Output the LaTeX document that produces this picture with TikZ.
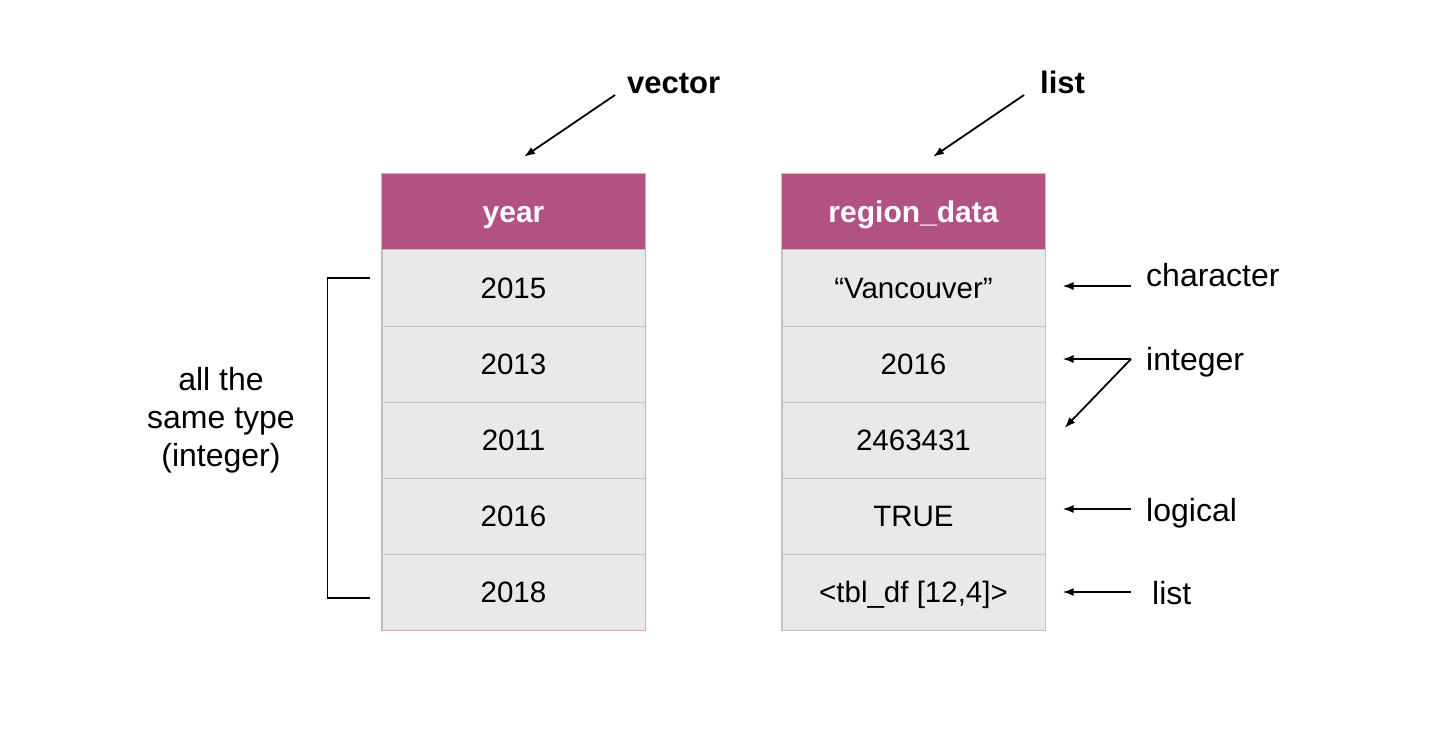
\documentclass[tikz,border=0pt]{standalone}
\usepackage{fontspec}
\setmainfont{Liberation Sans}
\usetikzlibrary{positioning,arrows.meta}

\definecolor{headpink}{HTML}{B25282}
\definecolor{cellgrey}{HTML}{E9E9EB}
\definecolor{linegrey}{HTML}{C2C2C4}
\definecolor{edgepink}{HTML}{DCA6C1}

\begin{document}
\begin{tikzpicture}[
 x=1pt, y=-1pt,
 >={Latex[length=11pt,width=8pt]},
 align=center,
 inner sep=0pt,
 head/.style={draw=headpink,fill=headpink,rectangle,minimum width=263pt,minimum height=76pt,text height=27pt,text depth=6pt,text=white,font=\fontsize{30}{36}\selectfont\bfseries},
 cell/.style={draw=linegrey,fill=cellgrey,line width=1pt,rectangle,minimum width=263pt,minimum height=76pt,text height=27pt,text depth=6pt,font=\fontsize{29.5}{35}\selectfont},
 note/.style={font=\fontsize{32}{38}\selectfont},
 title/.style={font=\fontsize{31}{38}\selectfont\bfseries},
 pointer/.style={->,line width=1.8pt}
]
\useasboundingbox [fill=white] (0,0) rectangle (1446,754);

% vector table
\node (yhead) [head] at (513.5,212) {year};
\foreach \val [count=\i] in {2015,2013,2011,2016,2018}
  \node (y\i) [cell] at (513.5,212+76*\i) {\val};
\draw [edgepink,line width=1pt] (yhead.north west) rectangle (y5.south east);

% list table
\node (rhead) [head] at (913.5,212) {region\_data};
\node (r1) [cell] at (913.5,288) {“Vancouver”};
\node (r2) [cell] at (913.5,364) {2016};
\node (r3) [cell] at (913.5,440) {2463431};
\node (r4) [cell] at (913.5,516) {TRUE};
\node (r5) [cell] at (913.5,592) {<tbl\_df [12,4]>};
\draw [linegrey,line width=1pt] (rhead.north west) rectangle (r5.south east);

% titles
\node (vector) [title,anchor=base west] at (627,94) {vector};
\node (list) [title,anchor=base west] at (1040,94) {list};
\draw[pointer] ([xshift=-12pt,yshift=-1pt]vector.base west) -- ([xshift=10.5pt,yshift=17pt]yhead.north);
\draw[pointer] ([xshift=-16pt,yshift=-1pt]list.base west) -- ([xshift=19.5pt,yshift=17pt]rhead.north);

% types
\node (character) [note,anchor=base west] at (1146,287) {character};
\node (integer) [note,anchor=base west] at (1146,370) {integer};
\node (logical) [note,anchor=base west] at (1146,521) {logical};
\node (sublist) [note,anchor=base west] at (1152,604) {list};
\draw[pointer] ([xshift=-15pt,yshift=1pt]character.base west) -- ([xshift=17pt,yshift=2pt]r1.east);
\draw[pointer] ([xshift=-15pt,yshift=11pt]integer.base west) -- ([xshift=17pt,yshift=5pt]r2.east);
\draw[pointer] ([xshift=-15pt,yshift=11pt]integer.base west) -- ([xshift=19pt,yshift=12pt]r3.east);
\draw[pointer] ([xshift=-15pt,yshift=12pt]logical.base west) -- ([xshift=17pt,yshift=7pt]r4.east);
\draw[pointer] ([xshift=-21pt,yshift=12pt]sublist.base west) -- ([xshift=17pt]r5.east);

% bracket
\node (same) [note] at (221,420) {all the\\same type\\(integer)};
\draw[line width=1.8pt] ([xshift=-12pt,yshift=10pt]y1.west) -- ++(-42,0) |- ([xshift=-12pt,yshift=-6pt]y5.west);
\end{tikzpicture}
\end{document}
